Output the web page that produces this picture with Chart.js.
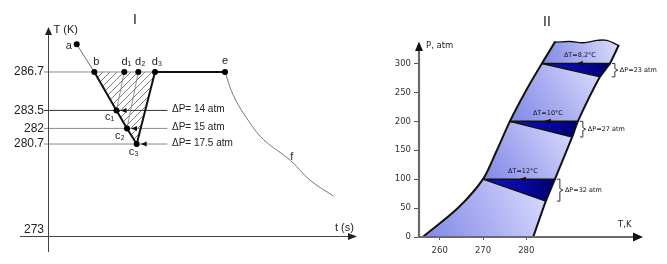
<!DOCTYPE html>
<html><head><meta charset="utf-8">
<script src="https://cdn.jsdelivr.net/npm/chart.js@4.4.1/dist/chart.umd.min.js"></script>
<style>
html,body{margin:0;padding:0;background:#fff}
body{width:667px;height:264px;position:relative;overflow:hidden}
.w{position:absolute;top:0;height:264px}
#w1{left:0;width:365px}
#w2{left:365px;width:302px}
</style></head><body>
<div class="w" id="w1"><canvas id="c1"></canvas></div>
<div class="w" id="w2"><canvas id="c2"></canvas></div>
<script>
// ===== Panel I: temperature vs time =====
const tempTicks = [273, 280.7, 282, 283.5, 286.7];
const pointNames = ['a', 'b', 'd₁', 'd₂', 'd₃', 'e', 'c₁', 'c₂', 'c₃'];
const pointTime  = [2.87, 4.63, 7.63, 9.03, 10.7, 17.7, 6.85, 7.9, 8.87];
const pointTemp  = [289.0, 286.7, 286.7, 286.7, 286.7, 286.7, 283.5, 282, 280.7];
const coolTime = [17.7, 18.53, 19.87, 21.53, 24.27, 26.2, 28.53];
const coolTemp = [286.7, 284.76, 282.86, 281.09, 279.32, 277.69, 276.38];
const dropTemp = [283.5, 282, 280.7];
const dropLabels = ['ΔP= 14 atm', 'ΔP= 15 atm', 'ΔP= 17.5 atm'];

// ===== Panel II: pressure vs temperature =====
const pTicks = [0, 50, 100, 150, 200, 250, 300];
const tTicks = [260, 270, 280];
const leftT  = [256.1, 264.2, 270, 273.2, 276.2, 279.7, 283.6, 286.6];
const leftP  = [0, 50, 100, 150, 200, 250, 300, 337];
const rightT = [281.6, 284.5, 286.6, 290.6, 291.9, 297.0, 299.3, 301.3];
const rightP = [0, 62, 100, 173, 200, 277, 300, 331];
const topT = [286.6, 290.1, 293.2, 296.3, 298.6, 301.3];
const topP = [337, 338, 336, 340, 340, 331];
const stepP    = [100, 200, 300];
const stepLowP = [62, 173, 277];
const stepDT = ['ΔT=12°C', 'ΔT=10°C', 'ΔT=8.2°C'];
const stepDP = ['ΔP=32 atm', 'ΔP=27 atm', 'ΔP=23 atm'];

const FL = '"Liberation Sans", Arial, sans-serif';
const FD = '"DejaVu Sans", Verdana, sans-serif';

function ln(data, color, w, extra) {
  return Object.assign({data, showLine: true, borderColor: color, borderWidth: w,
    pointRadius: 0, pointHoverRadius: 0, fill: false, clip: false, tension: 0,
    borderJoinStyle: 'round', borderCapStyle: 'round'}, extra || {});
}
function tri(ctx, x1, y1, x2, y2, x3, y3) {
  ctx.beginPath(); ctx.moveTo(x1, y1); ctx.lineTo(x2, y2); ctx.lineTo(x3, y3); ctx.closePath(); ctx.fill();
}
function seg(ctx, x1, y1, x2, y2) {
  ctx.beginPath(); ctx.moveTo(x1, y1); ctx.lineTo(x2, y2); ctx.stroke();
}

// ---------- Chart I ----------
const pts = pointNames.map((n, i) => ({x: pointTime[i], y: pointTemp[i]}));
const [pa, pb, pd1, pd2, pd3, pe, pc1, pc2, pc3] = pts;
const cv1 = document.getElementById('c1');
const hatchPattern = (() => {
  const c = document.createElement('canvas'); c.width = 7; c.height = 7;
  const g = c.getContext('2d'); g.strokeStyle = '#5a5a5a'; g.lineWidth = 0.8;
  g.beginPath(); g.moveTo(-1, 8); g.lineTo(8, -1); g.stroke();
  return cv1.getContext('2d').createPattern(c, 'repeat');
})();

const decorI = {
  id: 'decorI',
  afterDatasetsDraw(chart) {
    const {ctx, scales: {x, y}} = chart;
    const x0 = Math.round(x.getPixelForValue(0)) + 0.5;
    const yb = Math.round(y.getPixelForValue(273)) + 0.5;
    ctx.save();
    ctx.strokeStyle = '#444'; ctx.fillStyle = '#222'; ctx.lineWidth = 1;
    seg(ctx, x0, 33, x0, 252);
    seg(ctx, 20, yb, 350, yb);
    tri(ctx, x0 - 3.5, 35, x0 + 3.5, 35, x0, 27);
    tri(ctx, 348, yb - 3.5, 348, yb + 3.5, 357, yb);
    ctx.fillStyle = '#111';
    [pc1, pc2, pc3].forEach(p => {
      const px = x.getPixelForValue(p.x) + 4, py = y.getPixelForValue(p.y);
      tri(ctx, px, py, px + 6, py - 2.5, px + 6, py + 2.5);
    });
    ctx.fillStyle = '#222';
    ctx.textBaseline = 'middle';
    ctx.font = '14px ' + FL; ctx.textAlign = 'center';
    ctx.fillText('I', 135, 20);
    ctx.font = '11px ' + FL; ctx.textAlign = 'left';
    ctx.fillText('T (K)', x0 + 5, 30);
    ctx.fillText('t (s)', 335, yb - 9);
    const offs = [[-8, 2], [2, -10], [2, -10], [2, -10], [2, -10], [0, -11], [-7, 7], [-7, 8], [-3, 8]];
    ctx.textAlign = 'center';
    pts.forEach((p, i) => {
      ctx.fillText(pointNames[i], x.getPixelForValue(p.x) + offs[i][0], y.getPixelForValue(p.y) + offs[i][1]);
    });
    ctx.fillText('f', x.getPixelForValue(coolTime[4]) + 1, y.getPixelForValue(coolTemp[4]) - 4);
    ctx.font = '10px ' + FL; ctx.textAlign = 'left';
    dropTemp.forEach((v, i) => {
      ctx.fillText(dropLabels[i], x.getPixelForValue(11.9) + 5, y.getPixelForValue(v) - 1);
    });
    ctx.restore();
  }
};

new Chart(cv1, {
  type: 'scatter',
  data: {datasets: [
    {data: pts, showLine: false, pointRadius: 3, pointHoverRadius: 3, pointBackgroundColor: '#000', pointBorderColor: '#000', pointBorderWidth: 0, clip: false},
    ln([pb, pc1, pc2, pc3, pd3, pe], '#111', 2),
    ln([pa, pb], '#6f6f6f', 1),
    ln([pd1, pc1], '#777', 0.8),
    ln([pd2, pc2], '#777', 0.8),
    ln(coolTime.map((t, i) => ({x: t, y: coolTemp[i]})), '#777', 1, {tension: 0.4}),
    ln([{x: -0.4, y: 286.7}, pd3], '#8a8a8a', 1),
    ...dropTemp.map((v, i) => ln([{x: -0.4, y: v}, {x: 11.9, y: v}], i === 0 ? '#333' : '#8a8a8a', 1)),
    ln([pb, pc3, pd3], 'rgba(0,0,0,0)', 0, {fill: 'shape', backgroundColor: hatchPattern})
  ]},
  options: {
    responsive: true, maintainAspectRatio: false, animation: false, devicePixelRatio: 1, events: [],
    layout: {padding: {top: 20, right: 7, bottom: 14, left: 0}},
    plugins: {legend: {display: false}, tooltip: {enabled: false}},
    scales: {
      x: {type: 'linear', min: 0, max: 31, display: false},
      y: {type: 'linear', min: 272.24, max: 291.03,
        afterFit: s => { s.width = 48; },
        afterBuildTicks: s => { s.ticks = tempTicks.map(v => ({value: v})); },
        grid: {display: false, drawTicks: false}, border: {display: false},
        ticks: {padding: 4, color: '#222', autoSkip: false, font: {family: FL, size: 12},
          callback: v => v === 273 ? ['273', ''] : String(v)}}
    }
  },
  plugins: [decorI]
});

// ---------- Chart II ----------
const cv2 = document.getElementById('c2');
const L = i => ({x: leftT[i], y: leftP[i]});
const R = i => ({x: rightT[i], y: rightP[i]});
const topPts = topT.map((t, i) => ({x: t, y: topP[i]}));
const iL = stepP.map(p => leftP.indexOf(p));
const iR = stepP.map(p => rightP.indexOf(p));
const iRl = stepLowP.map(p => rightP.indexOf(p));

function grad(chart, poly, stops, horiz) {
  const {x, y} = chart.scales;
  if (!chart.chartArea || !x) return stops[1][1];
  const xs = poly.map(p => x.getPixelForValue(p.x)), ys = poly.map(p => y.getPixelForValue(p.y));
  const g = horiz
    ? chart.ctx.createLinearGradient(Math.min(...xs), 0, Math.max(...xs), 0)
    : chart.ctx.createLinearGradient(Math.min(...xs), Math.max(...ys), Math.max(...xs), Math.min(...ys));
  stops.forEach(s => g.addColorStop(s[0], s[1]));
  return g;
}
const lightStops = [[0, '#8088e6'], [0.5, '#adb1f2'], [1, '#dcdefc']];
const darkStops = [[0, '#1414c0'], [0.6, '#0606a0'], [1, '#00006a']];

const cells = [
  [L(0), L(1), L(2), R(iRl[0]), R(0)],
  [L(2), R(2), R(3), L(4), L(3)],
  [L(4), R(4), R(5), L(6), L(5)],
  [L(6), R(6), R(7), ...topPts.slice().reverse(), L(7)]
];
const darks = stepP.map((p, k) => [L(iL[k]), R(iR[k]), R(iRl[k])]);

const decorII = {
  id: 'decorII',
  afterDatasetsDraw(chart) {
    const {ctx, chartArea: a, scales: {x, y}} = chart;
    const ox = a.left, oy = y.getPixelForValue(0);
    ctx.save();
    ctx.strokeStyle = '#6a6a6a'; ctx.lineWidth = 2.2;
    seg(ctx, ox, oy + 1, ox, 50);
    seg(ctx, ox, oy, 269, oy);
    ctx.fillStyle = '#111';
    tri(ctx, ox - 4, 51, ox + 4, 51, ox, 41.5);
    tri(ctx, 268, oy - 4.5, 268, oy + 4.5, 278, oy);
    ctx.fillStyle = '#222'; ctx.textBaseline = 'middle';
    ctx.font = '14px ' + FL; ctx.textAlign = 'center';
    ctx.fillText('II', 182, 22);
    ctx.font = '8.5px ' + FD; ctx.textAlign = 'left';
    ctx.fillText('P, atm', ox + 7, 46);
    ctx.fillText('T,K', 253, oy - 12);
    ctx.font = '6.5px ' + FD;
    stepP.forEach((p, k) => {
      const xl = x.getPixelForValue(leftT[iL[k]]), xr = x.getPixelForValue(rightT[iR[k]]);
      const py = y.getPixelForValue(p), pyl = y.getPixelForValue(stepLowP[k]);
      const mx = (xl + xr) / 2;
      ctx.fillStyle = '#111';
      tri(ctx, mx, py, mx + 7, py - 2.5, mx + 7, py + 2.5);
      ctx.textAlign = 'center';
      ctx.fillText(stepDT[k], mx + 4, py - 8);
      const bx = xr + 2, ym = (py + pyl) / 2;
      ctx.strokeStyle = '#333'; ctx.lineWidth = 1;
      ctx.beginPath();
      ctx.moveTo(bx, py); ctx.lineTo(bx + 3, py); ctx.lineTo(bx + 3, ym - 1.5); ctx.lineTo(bx + 6, ym);
      ctx.lineTo(bx + 3, ym + 1.5); ctx.lineTo(bx + 3, pyl); ctx.lineTo(bx, pyl);
      ctx.stroke();
      ctx.textAlign = 'left';
      ctx.fillText(stepDP[k], bx + 8, ym);
    });
    ctx.restore();
  }
};

new Chart(cv2, {
  type: 'scatter',
  data: {datasets: [
    ...stepP.map((p, k) => ln([L(iL[k]), R(iR[k])], '#111', 1.6)),
    ...stepP.map((p, k) => ln([L(iL[k]), R(iRl[k])], '#111', 1.4)),
    ln(leftT.map((t, i) => L(i)), '#111', 2, {tension: 0.3}),
    ln(rightT.map((t, i) => R(i)), '#111', 2, {tension: 0.2}),
    ln(topPts, '#111', 1.4, {tension: 0.4}),
    ...darks.map(poly => ln(poly, 'rgba(0,0,0,0)', 0, {fill: 'shape', backgroundColor: c => grad(c.chart, poly, darkStops, true)})),
    ...cells.map(poly => ln(poly, 'rgba(0,0,0,0)', 0, {fill: 'shape', backgroundColor: c => grad(c.chart, poly, lightStops, false)}))
  ]},
  options: {
    responsive: true, maintainAspectRatio: false, animation: false, devicePixelRatio: 1, events: [],
    layout: {padding: {top: 30, right: 24, bottom: 0, left: 0}},
    plugins: {legend: {display: false}, tooltip: {enabled: false}},
    scales: {
      x: {type: 'linear', min: 255.22, max: 306.95,
        afterFit: s => { s.height = 27; },
        afterBuildTicks: s => { s.ticks = tTicks.map(v => ({value: v})); },
        grid: {display: true, drawOnChartArea: false, drawTicks: true, tickLength: 3, color: '#555'},
        border: {display: false},
        ticks: {padding: 6, color: '#333', autoSkip: false, maxRotation: 0, font: {family: FD, size: 8.5}}},
      y: {type: 'linear', min: 0, max: 358,
        afterFit: s => { s.width = 54; },
        afterBuildTicks: s => { s.ticks = pTicks.map(v => ({value: v})); },
        grid: {display: true, drawOnChartArea: false, drawTicks: true, tickLength: 5, color: '#555'},
        border: {display: false},
        ticks: {padding: 3, color: '#333', autoSkip: false, font: {family: FD, size: 8.5}}}
    }
  },
  plugins: [decorII]
});
</script>
</body></html>
